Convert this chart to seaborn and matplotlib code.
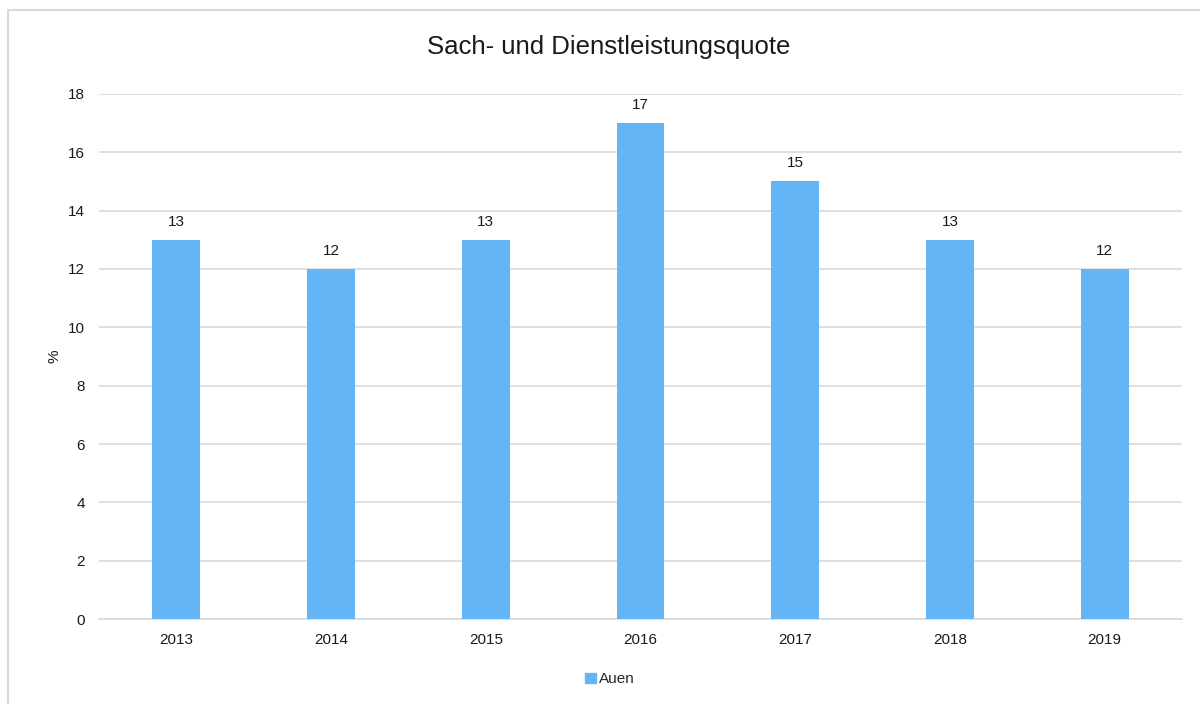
import matplotlib
matplotlib.use("Agg")
import matplotlib.pyplot as plt
import seaborn as sns
import pandas as pd
from matplotlib.patches import Rectangle

years = ["2013", "2014", "2015", "2016", "2017", "2018", "2019"]
values = [13, 12, 13, 17, 15, 13, 12]
series_name = "Auen"

sns.set_theme(style="white")
plt.rcParams['font.family'] = ['Liberation Sans', 'DejaVu Sans']

df = pd.DataFrame({"Jahr": years, "Wert": values, "Serie": series_name})

fig = plt.figure(figsize=(12, 7.04), dpi=100)
ax = fig.add_axes([0.0825, 0.1207, 0.9025, 0.7458])

sns.barplot(data=df, x="Jahr", y="Wert", hue="Serie", palette=["#63B5F5"],
            width=0.31, ax=ax, saturation=1, legend=False, zorder=3,
            linewidth=0)

for c in ax.containers:
    ax.bar_label(c, labels=[str(v) for v in values], padding=8, fontsize=11, color="#1a1a1a")

ax.set_ylim(0, 18)
ax.set_yticks(range(0, 19, 2))
ax.grid(axis="y", color="#d9d9d9", linewidth=1.2, zorder=0)
for s in ["top", "right", "left"]:
    ax.spines[s].set_visible(False)
ax.spines["bottom"].set_color("#d9d9d9")
ax.spines["bottom"].set_linewidth(1.2)
ax.tick_params(axis="both", length=0, labelsize=11, colors="#1a1a1a", pad=10)
ax.set_xlabel("")
ax.set_ylabel("%", fontsize=11, color="#1a1a1a", labelpad=5)

fig.text(0.5075, 0.933, "Sach- und Dienstleistungsquote", ha="center", va="center",
         fontsize=18.5, color="#1a1a1a")

handle = Rectangle((0, 0), 1, 1, color="#63B5F5")
fig.legend([handle], [series_name], loc="center", bbox_to_anchor=(0.508, 0.035),
           frameon=False, fontsize=11, handlelength=0.7, handleheight=0.7,
           handletextpad=0.2)

fig.patches.append(Rectangle((8 / 1200, -0.05), 1.2, (704 - 10) / 704 + 0.05,
                             transform=fig.transFigure, fill=False,
                             edgecolor="#d9d9d9", linewidth=1.5))

fig.savefig("out.png", dpi=100, facecolor="white")
